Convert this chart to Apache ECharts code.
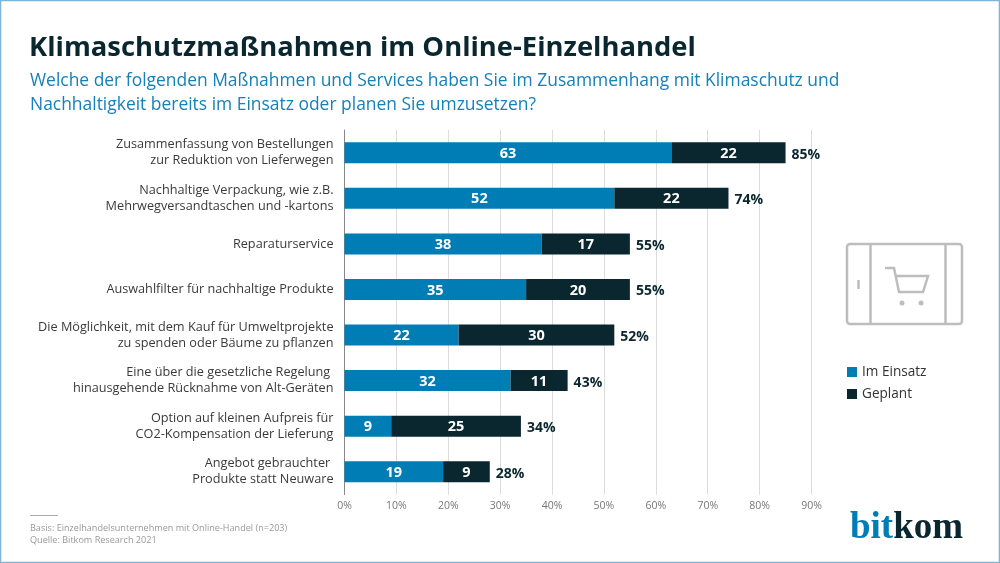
<!DOCTYPE html>
<html>
<head>
<meta charset="utf-8">
<style>
html, body { margin: 0; padding: 0; background: #fff; }
#chart { width: 1000px; height: 563px; }
</style>
<script src="https://cdn.jsdelivr.net/npm/echarts@6/dist/echarts.min.js"></script>
</head>
<body>
<div id="chart"></div>
<script>
var categories = [
	'Zusammenfassung von Bestellungen\nzur Reduktion von Lieferwegen',
	'Nachhaltige Verpackung, wie z.B.\nMehrwegversandtaschen und -kartons',
	'Reparaturservice',
	'Auswahlfilter für nachhaltige Produkte',
	'Die Möglichkeit, mit dem Kauf für Umweltprojekte\nzu spenden oder Bäume zu pflanzen',
	'Eine über die gesetzliche Regelung \nhinausgehende Rücknahme von Alt-Geräten',
	'Option auf kleinen Aufpreis für\nCO2-Kompensation der Lieferung',
	'Angebot gebrauchter \nProdukte statt Neuware'
];
var imEinsatz = [63, 52, 38, 35, 22, 32, 9, 19];
var geplant = [22, 22, 17, 20, 30, 11, 25, 9];
var gesamt = [85, 74, 55, 55, 52, 43, 34, 28];

var BLUE = '#007db5';
var DARK = '#0a2730';
var FONT = '"Open Sans", sans-serif';
var ICON = '#bdbdbd';

var chart = echarts.init(document.getElementById('chart'));

function iconLine(shape) {
	return { type: 'line', shape: shape, style: { stroke: ICON, lineWidth: 2.5 } };
}

chart.setOption({
	animation: false,
	backgroundColor: '#fff',
	textStyle: { fontFamily: FONT },
	title: [
		{ text: 'Klimaschutzmaßnahmen im Online-Einzelhandel', left: 29, top: 35, padding: 0,
			textStyle: { fontFamily: FONT, fontSize: 27.4, fontWeight: 'bold', color: DARK } },
		{ text: 'Welche der folgenden Maßnahmen und Services haben Sie im Zusammenhang mit Klimaschutz und\nNachhaltigkeit bereits im Einsatz oder planen Sie umzusetzen?', left: 30, top: 69, padding: 0,
			textStyle: { fontFamily: FONT, fontSize: 17.45, fontWeight: 'normal', color: '#1680b8', lineHeight: 24 } },
		{ text: 'Basis: Einzelhandelsunternehmen mit Online-Handel (n=203)\nQuelle: Bitkom Research 2021', left: 30, top: 522, padding: 0,
			textStyle: { fontFamily: FONT, fontSize: 9.1, fontWeight: 'normal', color: '#999', lineHeight: 12 } }
	],
	legend: {
		data: ['Im Einsatz', 'Geplant'],
		orient: 'vertical',
		left: 847,
		top: 365,
		padding: 0,
		itemWidth: 10,
		itemHeight: 10,
		itemGap: 8,
		icon: 'rect',
		textStyle: { fontFamily: FONT, fontSize: 13.6, color: '#333' }
	},
	grid: { left: 344.5, right: 188.5, top: 130, bottom: 68.5 },
	xAxis: {
		type: 'value',
		min: 0,
		max: 90,
		interval: 10,
		axisLine: { show: false },
		axisTick: { show: false },
		axisLabel: { formatter: '{value}%', fontSize: 10.5, color: '#777', margin: 6 },
		splitLine: { lineStyle: { color: '#dcdcdc', width: 1 } }
	},
	yAxis: {
		type: 'category',
		inverse: true,
		data: categories,
		axisLine: { lineStyle: { color: '#888', width: 1 } },
		axisTick: { show: false },
		axisLabel: { fontSize: 12.7, color: '#3a3a3a', lineHeight: 16, margin: 11, align: 'right' }
	},
	series: [
		{
			name: 'Im Einsatz', type: 'bar', stack: 'a', data: imEinsatz, barWidth: 21,
			itemStyle: { color: BLUE },
			label: { show: true, position: 'inside', offset: [0, 1], color: '#fff', fontSize: 14.5, fontWeight: 'bold' }
		},
		{
			name: 'Geplant', type: 'bar', stack: 'a', data: geplant, barWidth: 21,
			itemStyle: { color: DARK },
			label: { show: true, position: 'inside', offset: [0, 1], color: '#fff', fontSize: 14.5, fontWeight: 'bold' }
		},
		{
			name: 'Gesamt', type: 'bar', data: gesamt, barWidth: 21, barGap: '-100%', z: 1,
			itemStyle: { color: 'transparent' },
			label: { show: true, position: 'right', distance: 6, offset: [0, 2], formatter: '{c}%', color: DARK, fontSize: 14, fontWeight: 'bold' }
		}
	],
	graphic: [
		// Rahmen
		{ type: 'rect', shape: { x: 0.5, y: 0.5, width: 999, height: 562 }, style: { fill: 'none', stroke: '#7db5d8', lineWidth: 1.5 }, silent: true },
		// Trennstrich Fußnote
		{ type: 'line', shape: { x1: 30, y1: 515.5, x2: 58, y2: 515.5 }, style: { stroke: '#aaa', lineWidth: 1 } },
		// Tablet + Warenkorb
		{ type: 'rect', shape: { x: 847, y: 244, width: 115, height: 80, r: 3 }, style: { fill: 'none', stroke: ICON, lineWidth: 2.5 } },
		iconLine({ x1: 870.5, y1: 244, x2: 870.5, y2: 324 }),
		iconLine({ x1: 945.5, y1: 244, x2: 945.5, y2: 324 }),
		iconLine({ x1: 858.5, y1: 280, x2: 858.5, y2: 289 }),
		{ type: 'polyline', shape: { points: [[885, 268], [894, 268], [899, 292], [923, 292], [928, 276], [896, 276]] }, style: { fill: 'none', stroke: ICON, lineWidth: 2.5 } },
		{ type: 'circle', shape: { cx: 902, cy: 303, r: 2.5 }, style: { fill: ICON } },
		{ type: 'circle', shape: { cx: 921, cy: 303, r: 2.5 }, style: { fill: ICON } },
		// Logo
		{
			type: 'text', left: 850, top: 510,
			style: {
				text: '{a|bit}{b|kom}',
				rich: {
					a: { fontFamily: '"Liberation Serif", serif', fontSize: 37, fontWeight: 'bold', fill: BLUE },
					b: { fontFamily: '"Liberation Serif", serif', fontSize: 37, fontWeight: 'bold', fill: DARK }
				}
			}
		}
	]
});
</script>
</body>
</html>
